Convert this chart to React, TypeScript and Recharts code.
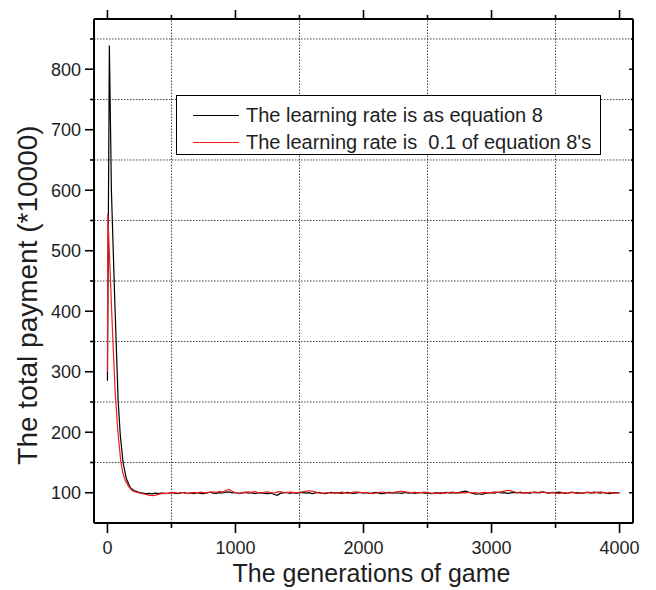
import React from "react";
import { LineChart, Line, XAxis, YAxis, ReferenceLine, Legend } from "recharts";

// ---- axis ticks / grid ----
const X_DOMAIN = [-105, 4105];
const Y_DOMAIN = [50, 883];
const X_TICKS = [0, 500, 1000, 1500, 2000, 2500, 3000, 3500, 4000];
const Y_TICKS = [100, 150, 200, 250, 300, 350, 400, 450, 500, 550, 600, 650, 700, 750, 800, 850];
const X_GRID = [500, 1500, 2500, 3500];
const Y_GRID = [150, 250, 350, 450, 550, 650, 750, 850];

// ---- series names ----
const NAME_A = "The learning rate is as equation 8";
const NAME_B = "The learning rate is  0.1 of equation 8's";

// ---- early transient ----
const A_EARLY_GEN = [0, 15, 31, 57, 78, 83, 100, 122, 148, 180, 213];
const A_EARLY_VAL = [285, 839, 599, 419, 287, 254, 196, 150, 123, 108, 103];
const B_EARLY_GEN = [0, 3, 20, 40, 60, 80, 104, 120, 140, 170, 198, 225];
const B_EARLY_VAL = [300, 561, 470, 365, 268, 205, 152, 133, 120, 109, 103, 101];

// ---- steady part, sampled every 25 generations from 250 to 4000 ----
const FLAT_GEN = Array.from({ length: 151 }, (_, i) => 250 + i * 25);
const A_FLAT = [
  100.2, 99.4, 98.6, 99.1, 98.2, 99.5, 98.8, 99.9, 98.4, 99.2,
  100.1, 99.3, 98.5, 99.6, 100.4, 98.9, 99.8, 98.7, 100.2, 99.1,
  98.6, 99.9, 100.8, 99.4, 98.8, 100.3, 99.6, 100.9, 101.5, 99.8,
  100.4, 98.9, 99.7, 100.6, 99.2, 100.1, 98.5, 99.6, 100.3, 99.0,
  98.4, 99.5, 97.6, 95.8, 98.9, 99.7, 100.5, 99.1, 100.2, 98.8,
  99.6, 100.7, 99.3, 100.1, 98.7, 99.9, 100.6, 99.4, 98.6, 99.8,
  100.5, 99.2, 100.3, 98.9, 99.7, 100.8, 99.5, 98.8, 99.9, 100.4,
  99.3, 100.2, 98.6, 99.8, 100.5, 99.1, 98.4, 99.7, 100.6, 99.4,
  100.3, 99.6, 98.9, 100.7, 99.5, 100.2, 98.8, 99.9, 100.4, 99.2,
  99.8, 98.7, 99.5, 100.3, 98.6, 99.9, 100.8, 99.4, 100.1, 99.3,
  100.6, 101.9, 102.6, 100.4, 99.1, 97.6, 98.3, 97.4, 98.9, 99.6,
  100.3, 99.4, 100.8, 99.6, 100.2, 98.9, 99.7, 100.5, 99.8, 100.9,
  99.5, 100.4, 99.1, 101.2, 100.6, 99.8, 101.5, 100.3, 99.4, 100.7,
  99.9, 101.1, 100.2, 98.8, 99.6, 100.9, 99.7, 100.4, 98.9, 99.8,
  100.6, 99.3, 101.0, 100.2, 99.4, 100.7, 99.1, 98.6, 100.3, 99.7,
  100.1,
];
const B_FLAT = [
  99.6, 98.4, 97.3, 96.1, 95.4, 96.0, 97.2, 98.5, 99.3, 98.7,
  99.9, 100.5, 99.2, 100.8, 99.6, 98.6, 99.4, 100.7, 99.8, 101.0,
  100.2, 99.5, 100.9, 101.6, 100.7, 102.1, 101.3, 104.2, 105.6, 102.4,
  100.1, 98.6, 99.3, 100.9, 101.4, 100.6, 101.8, 100.2, 99.5, 100.8,
  101.3, 100.4, 99.6, 100.9, 101.7, 100.8, 100.2, 101.1, 100.5, 99.7,
  100.8, 101.6, 102.4, 103.3, 102.6, 101.2, 99.8, 98.9, 99.6, 100.4,
  99.2, 100.6, 99.5, 101.1, 100.3, 99.0, 99.8, 100.9, 101.3, 100.5,
  99.7, 100.8, 99.4, 98.5, 99.6, 100.7, 101.2, 100.1, 99.3, 100.2,
  101.0, 101.8, 102.5, 101.4, 100.6, 99.8, 100.9, 99.6, 100.3, 101.1,
  100.4, 99.3, 98.6, 99.5, 100.2, 99.1, 99.8, 100.6, 101.2, 100.0,
  99.4, 100.3, 99.7, 100.8, 99.9, 100.4, 99.2, 100.1, 100.7, 99.5,
  100.6, 101.3, 100.7, 101.9, 102.8, 104.1, 103.2, 101.6, 100.4, 99.6,
  100.2, 99.4, 100.8, 100.3, 99.6, 100.9, 101.4, 100.2, 99.5, 100.6,
  99.3, 98.6, 99.7, 100.2, 99.1, 100.5, 99.8, 98.9, 99.6, 100.4,
  101.1, 100.3, 99.4, 100.8, 101.3, 100.1, 99.5, 100.7, 99.2, 99.9,
  99.8,
];

const seriesA = [
  ...A_EARLY_GEN.map((g, i) => ({ g, v: A_EARLY_VAL[i] })),
  ...FLAT_GEN.map((g, i) => ({ g, v: A_FLAT[i] })),
];
const seriesB = [
  ...B_EARLY_GEN.map((g, i) => ({ g, v: B_EARLY_VAL[i] })),
  ...FLAT_GEN.map((g, i) => ({ g, v: B_FLAT[i] })),
];

const FONT = "'Liberation Sans', Arial, Helvetica, sans-serif";
const TXT = "#1e1e1e";

const BottomTick = (p: any) => {
  const v = p.payload.value;
  const major = v % 1000 === 0;
  return (
    <g>
      <line x1={p.x} y1={p.y} x2={p.x} y2={p.y + (major ? 10 : 5)} stroke="#000" strokeWidth={1.6} />
      {major && (
        <text x={p.x} y={p.y + 31} textAnchor="middle" fontSize={18} fontFamily={FONT} fill={TXT}>
          {v}
        </text>
      )}
    </g>
  );
};
const TopTick = (p: any) => {
  const v = p.payload.value;
  const major = v % 1000 === 0;
  return <line x1={p.x} y1={p.y} x2={p.x} y2={p.y - (major ? 9 : 4)} stroke="#000" strokeWidth={1.6} />;
};
const LeftTick = (p: any) => {
  const v = p.payload.value;
  const major = v % 100 === 0;
  return (
    <g>
      <line x1={p.x} y1={p.y} x2={p.x - (major ? 9 : 4)} y2={p.y} stroke="#000" strokeWidth={1.6} />
      {major && (
        <text x={p.x - 13} y={p.y} dy="0.36em" textAnchor="end" fontSize={18} fontFamily={FONT} fill={TXT}>
          {v}
        </text>
      )}
    </g>
  );
};
const RightTick = (p: any) => {
  const v = p.payload.value;
  const major = v % 100 === 0;
  return <line x1={p.x} y1={p.y} x2={p.x - (major ? 4 : 2)} y2={p.y} stroke="#000" strokeWidth={1.4} />;
};

const YTitle = (p: any) => {
  const vb = p.viewBox || { x: 0, y: 0, width: 0, height: 0 };
  const cx = vb.x + 19;
  const cy = vb.y + vb.height / 2 + 24;
  return (
    <text
      x={cx}
      y={cy}
      transform={`rotate(-90 ${cx} ${cy})`}
      textAnchor="middle"
      dy="0.36em"
      fontSize={28}
      fontFamily={FONT}
      fill={TXT}
    >
      The total payment (*10000)
    </text>
  );
};
const XTitle = (p: any) => {
  const vb = p.viewBox || { x: 0, y: 0, width: 0, height: 0 };
  const cx = vb.x + vb.width / 2 + 8;
  const cy = vb.y + 59;
  return (
    <text x={cx} y={cy} textAnchor="middle" fontSize={25} fontFamily={FONT} fill={TXT}>
      The generations of game
    </text>
  );
};

const LegendBox = (props: any) => {
  const payload = props.payload || [];
  const ordered = [NAME_A, NAME_B]
    .map((n) => payload.find((e: any) => e.value === n))
    .filter(Boolean);
  return (
    <div
      style={{
        width: 425,
        height: 60,
        boxSizing: "border-box",
        border: "1.5px solid #000",
        background: "#fff",
        position: "relative",
        fontFamily: FONT,
      }}
    >
      {ordered.map((e: any, i: number) => (
        <div
          key={i}
          style={{
            position: "absolute",
            left: 16,
            top: 19 + i * 27.5 - 12,
            height: 24,
            display: "flex",
            alignItems: "center",
            whiteSpace: "pre",
          }}
        >
          <div style={{ width: 46, height: 0, borderTop: `1.5px solid ${e.color}`, marginRight: 7 }} />
          <span style={{ fontSize: 20, color: TXT }}>{e.value}</span>
        </div>
      ))}
    </div>
  );
};

export default function App() {
  return (
    <LineChart width={640} height={582} margin={{ top: 10, right: 14, bottom: 0, left: 0 }}>
      <XAxis
        xAxisId="b"
        dataKey="g"
        type="number"
        orientation="bottom"
        domain={X_DOMAIN}
        ticks={X_TICKS}
        interval={0}
        allowDataOverflow
        height={67}
        tickSize={0}
        tickMargin={0}
        tickLine={false}
        tick={<BottomTick />}
        axisLine={{ stroke: "#000", strokeWidth: 2 }}
        label={<XTitle />}
      />
      <XAxis
        xAxisId="t"
        dataKey="g"
        type="number"
        orientation="top"
        domain={X_DOMAIN}
        ticks={X_TICKS}
        interval={0}
        allowDataOverflow
        height={1}
        tickSize={0}
        tickMargin={0}
        tickLine={false}
        tick={<TopTick />}
        axisLine={{ stroke: "#000", strokeWidth: 2 }}
      />
      <YAxis
        yAxisId="l"
        dataKey="v"
        type="number"
        orientation="left"
        domain={Y_DOMAIN}
        ticks={Y_TICKS}
        interval={0}
        allowDataOverflow
        width={86}
        tickSize={0}
        tickMargin={0}
        tickLine={false}
        tick={<LeftTick />}
        axisLine={{ stroke: "#000", strokeWidth: 2 }}
        label={<YTitle />}
      />
      <YAxis
        yAxisId="r"
        dataKey="v"
        type="number"
        orientation="right"
        domain={Y_DOMAIN}
        ticks={Y_TICKS}
        interval={0}
        allowDataOverflow
        width={1}
        tickSize={0}
        tickMargin={0}
        tickLine={false}
        tick={<RightTick />}
        axisLine={{ stroke: "#000", strokeWidth: 2 }}
      />
      {Y_GRID.map((y) => (
        <ReferenceLine
          key={"y" + y}
          xAxisId="b"
          yAxisId="l"
          y={y}
          stroke="#444"
          strokeWidth={1}
          strokeDasharray="1.5 1.5"
        />
      ))}
      {X_GRID.map((x) => (
        <ReferenceLine
          key={"x" + x}
          xAxisId="b"
          yAxisId="l"
          x={x}
          stroke="#444"
          strokeWidth={1}
          strokeDasharray="1.5 1.5"
        />
      ))}
      <ReferenceLine xAxisId="b" yAxisId="l" y={Y_DOMAIN[1]} stroke="#000" strokeWidth={2} />
      <ReferenceLine xAxisId="b" yAxisId="l" x={X_DOMAIN[1]} stroke="#000" strokeWidth={2} />
      <Line
        xAxisId="b"
        yAxisId="l"
        data={seriesA}
        dataKey="v"
        name={NAME_A}
        type="linear"
        stroke="#000000"
        strokeWidth={1.2}
        dot={false}
        activeDot={false}
        isAnimationActive={false}
      />
      <Line
        xAxisId="b"
        yAxisId="l"
        data={seriesB}
        dataKey="v"
        name={NAME_B}
        type="linear"
        stroke="#ee1c1c"
        strokeWidth={1.2}
        dot={false}
        activeDot={false}
        isAnimationActive={false}
      />
      <Legend
        layout="horizontal"
        verticalAlign="middle"
        align="center"
        wrapperStyle={{ left: 168, top: 87, width: 425, height: 60 }}
        content={<LegendBox />}
      />
    </LineChart>
  );
}
